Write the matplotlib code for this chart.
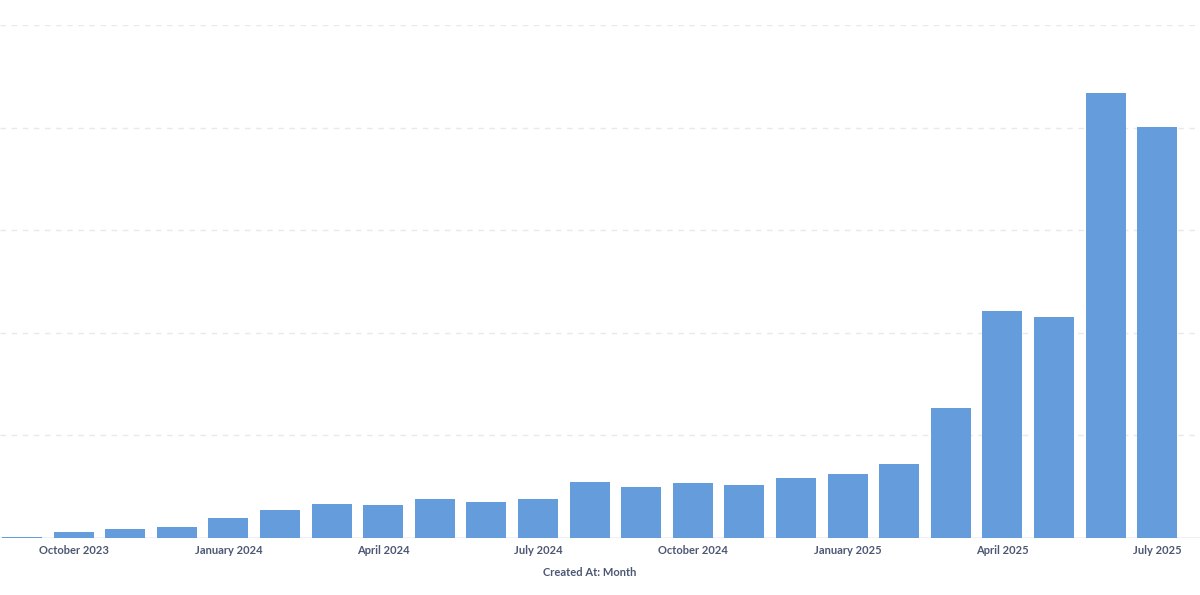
# ================= IMPORT LIBRARIES =================
import numpy as np
import matplotlib.pyplot as plt

# ================= DATA =================
months = [
    "September 2023", "October 2023", "November 2023", "December 2023",
    "January 2024", "February 2024", "March 2024", "April 2024",
    "May 2024", "June 2024", "July 2024", "August 2024",
    "September 2024", "October 2024", "November 2024", "December 2024",
    "January 2025", "February 2025", "March 2025", "April 2025",
    "May 2025", "June 2025", "July 2025",
]
counts = [
    0.8, 6.1, 9.1, 10.7,
    19.2, 27.0, 33.1, 32.2,
    38.0, 35.1, 38.0, 54.6,
    49.7, 53.6, 51.7, 58.8,
    62.4, 71.8, 127.0, 221.2,
    215.1, 433.4, 400.3,
]
tick_idx = [1, 4, 7, 10, 13, 16, 19, 22]
x_title = "Created At: Month"

# ================= STYLE =================
bar_color = "#659CDC"
text_color = "#4C5773"
grid_color = "#E8E9EB"
plt.rcParams["font.family"] = ["Lato", "DejaVu Sans"]

# ================= PLOT =================
fig = plt.figure(figsize=(12, 5.95), dpi=100)
ax = fig.add_axes([0, 1 - 538 / 595, 1, 513 / 595])

x = np.arange(len(months))
ax.axhline(0, color="#EDEEF0", linewidth=1.2, zorder=2)
ax.bar(x, counts, width=0.775, color=bar_color, zorder=3)

ax.set_xlim(-0.426, 22.83)
ax.set_ylim(0, 500)

ax.set_yticks([0, 100, 200, 300, 400, 500])
ax.yaxis.grid(True, color=grid_color, linestyle=(0, (4, 4)), linewidth=1, zorder=0)
ax.tick_params(axis="y", length=0, labelleft=False)

ax.set_xticks(tick_idx)
ax.set_xticklabels([months[i] for i in tick_idx], fontsize=8.0,
                   fontweight="bold", color=text_color)
ax.tick_params(axis="x", length=0, pad=5)
ax.set_xlabel(x_title, fontsize=8.0, fontweight="bold", color=text_color)
ax.xaxis.set_label_coords(590 / 1200, -0.056)

for side in ["top", "right", "left", "bottom"]:
    ax.spines[side].set_visible(False)

fig.savefig("out.png", dpi=100)
